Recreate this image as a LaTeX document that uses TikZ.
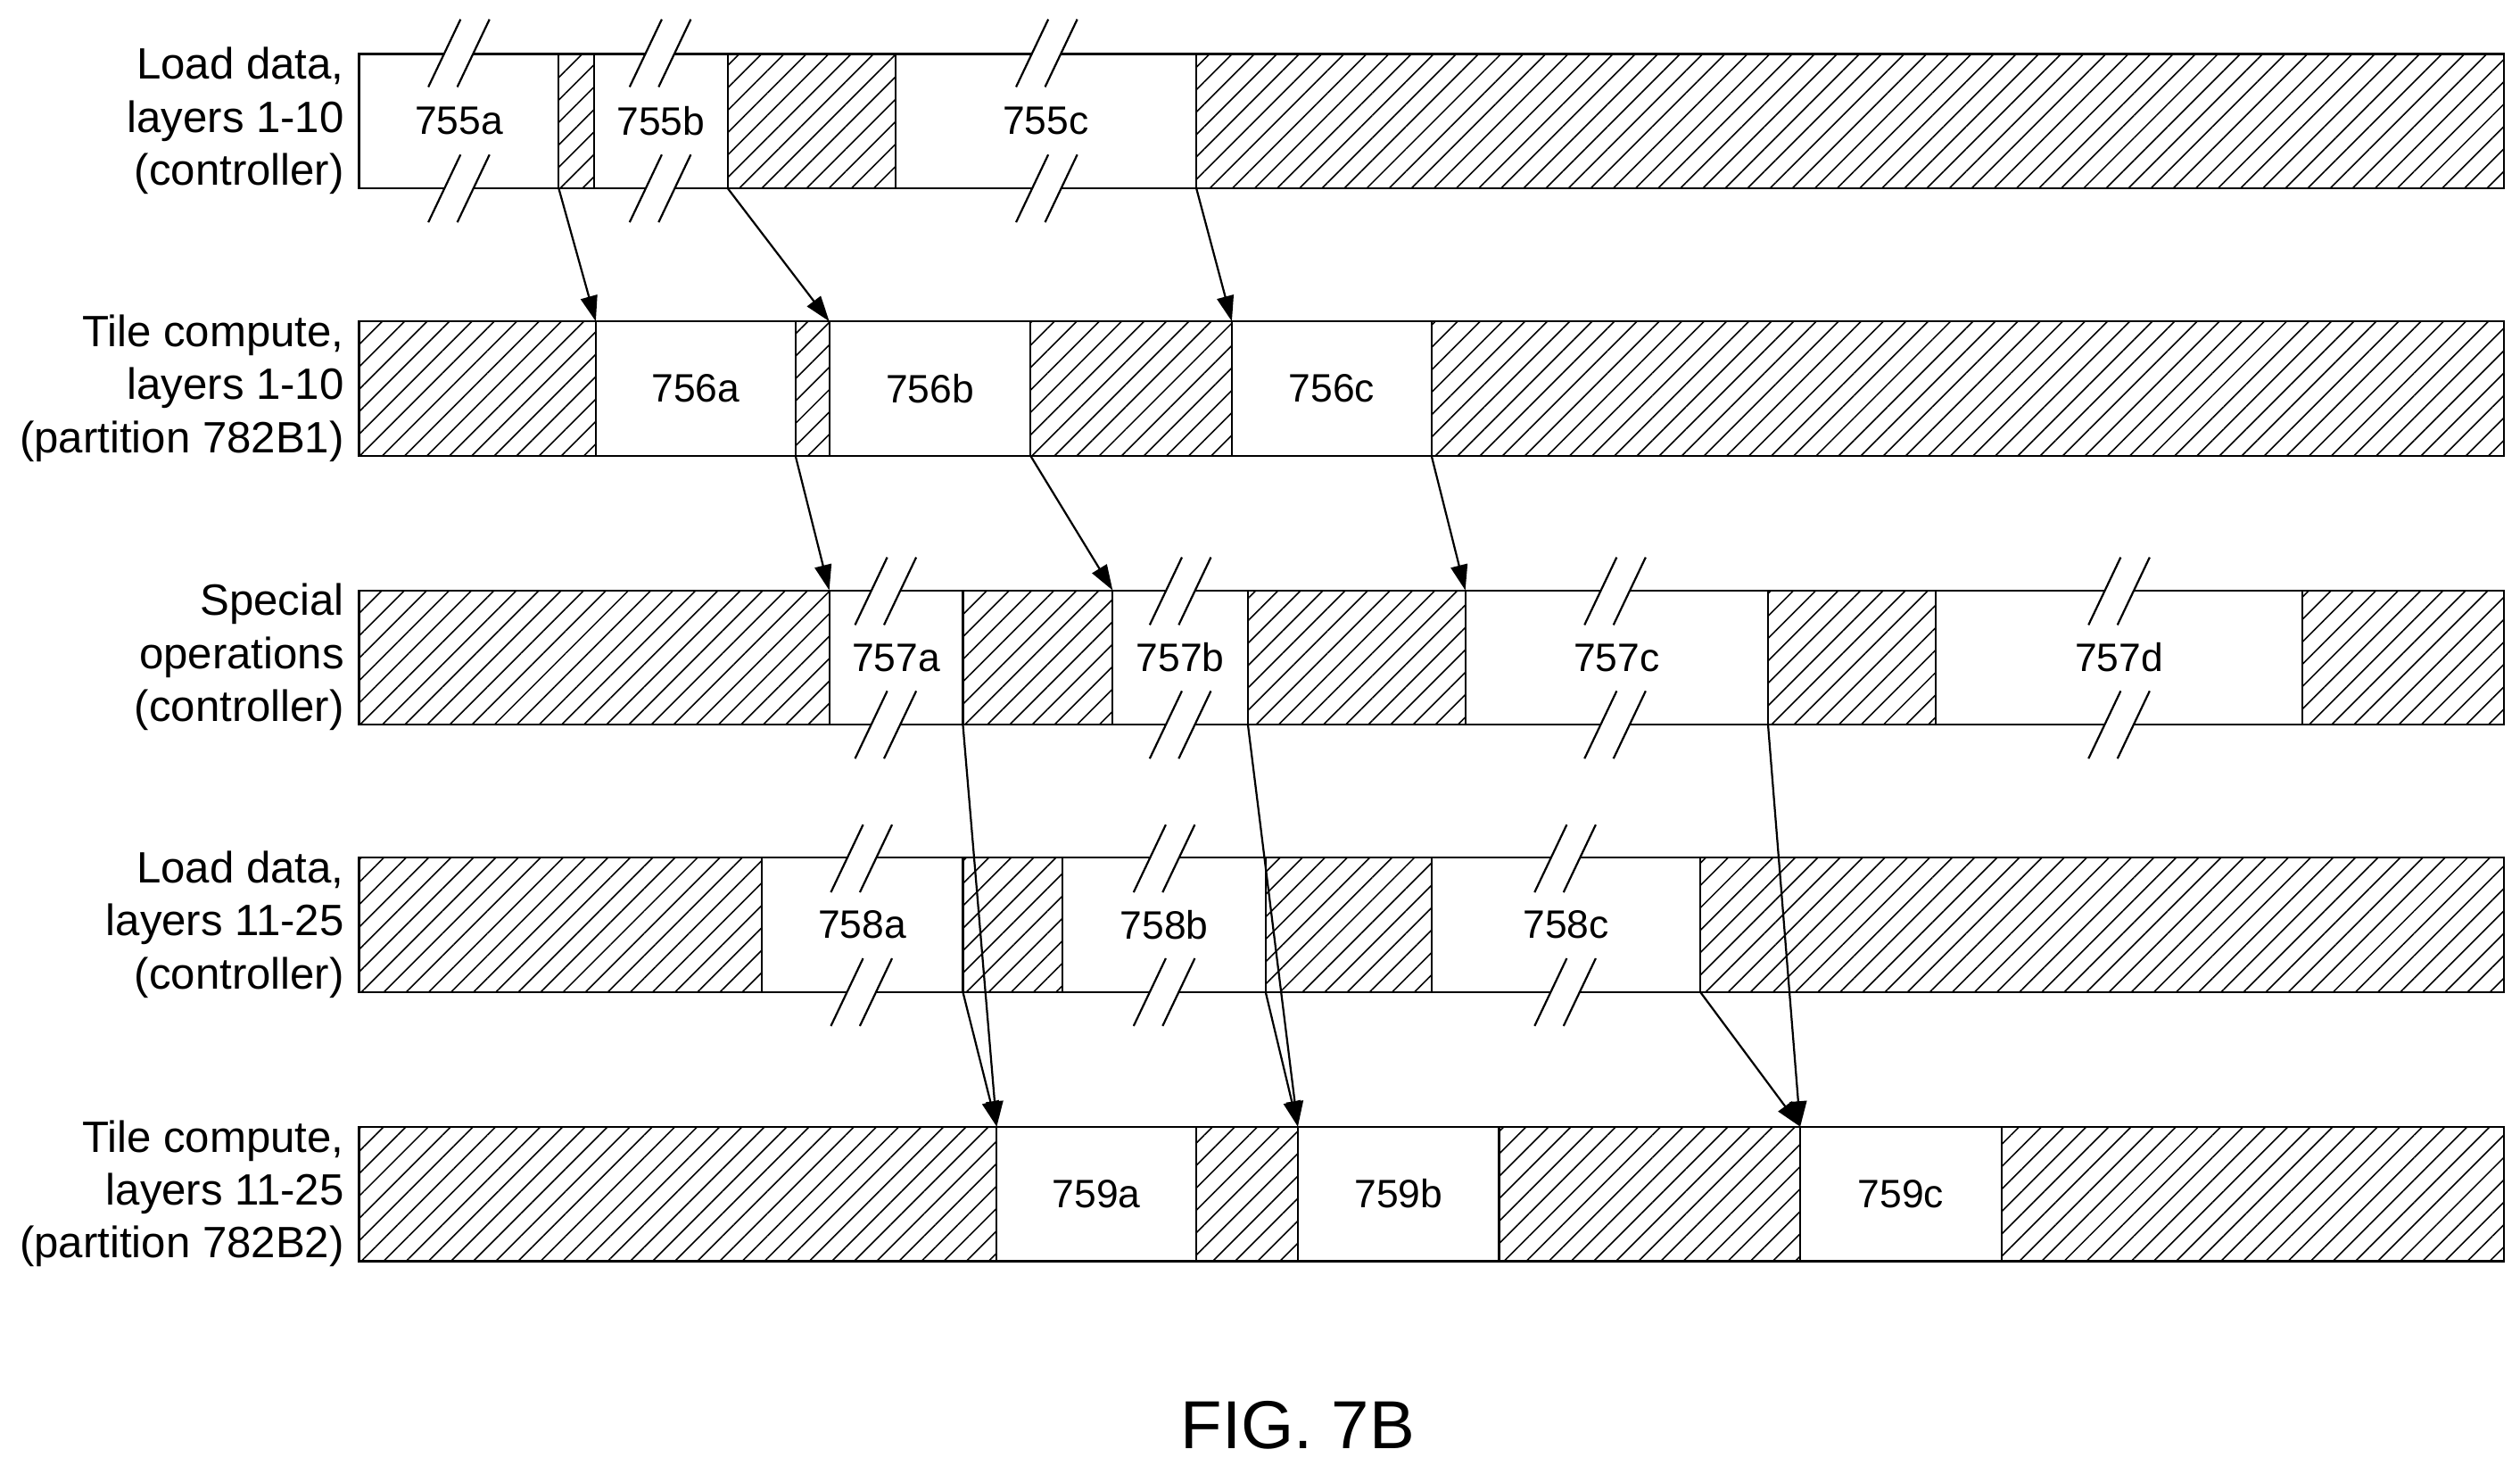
\documentclass[tikz,border=0pt]{standalone}
\usepackage{fontspec}
\setmainfont{Liberation Sans}
\usetikzlibrary{patterns.meta,arrows.meta}
\begin{document}
\begin{tikzpicture}[x=0.02cm,y=0.02cm,
  hat/.style={draw,line width=0.7pt,pattern={Lines[angle=45,distance=5.6pt,line width=0.5pt]}},
  wht/.style={draw,line width=0.7pt,fill=white,font=\fontsize{14}{16}\selectfont},
  lab/.style={align=right,anchor=east,inner sep=0pt,font=\fontsize{15.5}{18.7}\selectfont},
  arr/.style={line width=0.7pt,-{Triangle[length=9pt,width=6pt]}},
  brk/.style={line width=0.7pt}]
\useasboundingbox (0,0) rectangle (1565,-910);
\newcommand\seg[6]{\node[#5,inner sep=0pt,outer sep=0pt,minimum width={(#3-#2)*0.02cm},minimum height=1.67cm,anchor=south west] (#1) at (#2,-#4) {#6};}
\newcommand\brkmark[3]{% x, top, bottom
  \fill[white] (#1-9,-#2-1.5) rectangle (#1+9,-#2+1.5);
  \fill[white] (#1-9,-#3-1.5) rectangle (#1+9,-#3+1.5);
  \foreach \yy in {#2,#3}{
    \draw[brk] (#1-19,-\yy-21) -- (#1+1,-\yy+21);
    \draw[brk] (#1-1,-\yy-21) -- (#1+19,-\yy+21);}}
% row 1
\seg{r1a}{223}{347}{117}{wht}{755a}
\seg{r1h1}{347}{369}{117}{hat}{}
\seg{r1b}{369}{452}{117}{wht}{755b}
\seg{r1h2}{452}{556}{117}{hat}{}
\seg{r1c}{556}{743}{117}{wht}{755c}
\seg{r1h3}{743}{1555}{117}{hat}{}
\brkmark{285}{33}{117}\brkmark{410}{33}{117}\brkmark{650}{33}{117}
% row 2
\seg{r2h0}{223}{370}{283}{hat}{}
\seg{r2a}{370}{494}{283}{wht}{756a}
\seg{r2h1}{494}{515}{283}{hat}{}
\seg{r2b}{515}{640}{283}{wht}{756b}
\seg{r2h2}{640}{765}{283}{hat}{}
\seg{r2c}{765}{889}{283}{wht}{756c}
\seg{r2h3}{889}{1555}{283}{hat}{}
% row 3
\seg{r3h0}{223}{515}{450}{hat}{}
\seg{r3a}{515}{598}{450}{wht}{757a}
\seg{r3h1}{598}{691}{450}{hat}{}
\seg{r3b}{691}{775}{450}{wht}{757b}
\seg{r3h2}{775}{910}{450}{hat}{}
\seg{r3c}{910}{1098}{450}{wht}{757c}
\seg{r3h3}{1098}{1202}{450}{hat}{}
\seg{r3d}{1202}{1430}{450}{wht}{757d}
\seg{r3h4}{1430}{1555}{450}{hat}{}
\brkmark{550}{367}{450}\brkmark{733}{367}{450}\brkmark{1003}{367}{450}\brkmark{1316}{367}{450}
% row 4
\seg{r4h0}{223}{473}{616}{hat}{}
\seg{r4a}{473}{598}{616}{wht}{758a}
\seg{r4h1}{598}{660}{616}{hat}{}
\seg{r4b}{660}{786}{616}{wht}{758b}
\seg{r4h2}{786}{889}{616}{hat}{}
\seg{r4c}{889}{1056}{616}{wht}{758c}
\seg{r4h3}{1056}{1555}{616}{hat}{}
\brkmark{535}{533}{616}\brkmark{723}{533}{616}\brkmark{972}{533}{616}
% row 5
\seg{r5h0}{223}{619}{783}{hat}{}
\seg{r5a}{619}{743}{783}{wht}{759a}
\seg{r5h1}{743}{806}{783}{hat}{}
\seg{r5b}{806}{931}{783}{wht}{759b}
\seg{r5h2}{931}{1118}{783}{hat}{}
\seg{r5c}{1118}{1243}{783}{wht}{759c}
\seg{r5h3}{1243}{1555}{783}{hat}{}
% labels
\node[lab] (l1) at (214,-75) {Load data,\\layers 1-10\\(controller)};
\node[lab] (l2) at (214,-241) {Tile compute,\\layers 1-10\\(partition 782B1)};
\node[lab] (l3) at (214,-408) {Special\\operations\\(controller)};
\node[lab] (l4) at (214,-574) {Load data,\\layers 11-25\\(controller)};
\node[lab] (l5) at (214,-741) {Tile compute,\\layers 11-25\\(partition 782B2)};
% arrows
\draw[arr] (r1a.south east) -- (r2a.north west);
\draw[arr] (r1b.south east) -- (r2b.north west);
\draw[arr] (r1c.south east) -- (r2c.north west);
\draw[arr] (r2a.south east) -- (r3a.north west);
\draw[arr] (r2b.south east) -- (r3b.north west);
\draw[arr] (r2c.south east) -- (r3c.north west);
\draw[arr] (r3a.south east) -- (r5a.north west);
\draw[arr] (r3b.south east) -- (r5b.north west);
\draw[arr] (r3c.south east) -- (r5c.north west);
\draw[arr] (r4a.south east) -- (r5a.north west);
\draw[arr] (r4b.south east) -- (r5b.north west);
\draw[arr] (r4c.south east) -- (r5c.north west);
\node[font=\fontsize{24}{28}\selectfont] (fig) at (806,-885) {FIG. 7B};
\end{tikzpicture}
\end{document}
